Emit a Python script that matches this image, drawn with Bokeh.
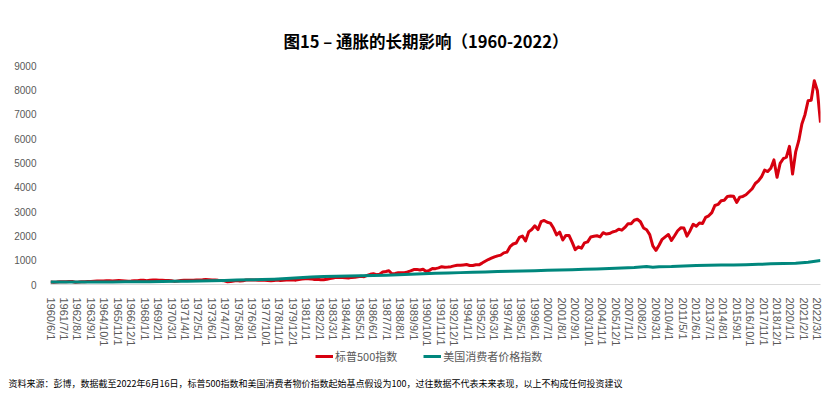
import math
from bokeh.plotting import figure
from bokeh.layouts import column
from bokeh.models import (Range1d, FixedTicker, Legend, LegendItem, Label)
from bokeh.embed import file_html
from bokeh.resources import INLINE

# ---------------- data (index, 1960/6 = 100) ----------------
title_text = "图15 – 通胀的长期影响（1960-2022）"
footer_text = ("资料来源：彭博，数据截至2022年6月16日，标普500指数和美国消费者物价指数起始基点假设为100，"
               "过往数据不代表未来表现，以上不构成任何投资建议")
series_names = ["标普500指数", "美国消费者价格指数"]

# S&P 500 index, quarterly (Mar, Jun, Sep, Dec), from 1960/6 to 2022/6
sp500_first = "1960/6"
sp500_values = [
    100, 94, 102,                      # 1960
    114, 114, 117, 126,                # 1961
    122, 96, 99, 111,                  # 1962
    117, 122, 126, 132,                # 1963
    139, 144, 148, 149,                # 1964
    151, 148, 158, 162,                # 1965
    157, 149, 135, 141,                # 1966
    158, 159, 170, 170,                # 1967
    158, 175, 180, 183,                # 1968
    178, 172, 164, 162,                # 1969
    157, 128, 148, 162,                # 1970
    176, 175, 173, 179,                # 1971
    188, 188, 194, 207,                # 1972
    196, 183, 190, 171,                # 1973
    165, 151, 112, 121,                # 1974
    147, 167, 147, 158,                # 1975
    181, 183, 185, 189,                # 1976
    173, 177, 170, 167,                # 1977
    157, 168, 180, 169,                # 1978
    179, 181, 192, 190,                # 1979
    179, 201, 221, 239,                # 1980
    239, 231, 204, 215,                # 1981
    197, 193, 212, 247,                # 1982
    269, 295, 292, 290,                # 1983
    280, 269, 292, 294,                # 1984
    317, 337, 320, 371,                # 1985
    420, 441, 406, 426,                # 1986
    513, 534, 565, 434,                # 1987
    455, 481, 478, 488,                # 1988
    518, 559, 614, 621,                # 1989
    597, 629, 538, 580,                # 1990
    659, 652, 682, 733,                # 1991
    709, 717, 734, 766,                # 1992
    794, 792, 806, 820,                # 1993
    783, 781, 813, 807,                # 1994
    880, 957, 1027, 1082,              # 1995
    1134, 1178, 1208, 1301,            # 1996
    1330, 1555, 1664, 1705,            # 1997
    1936, 1992, 1787, 2160,            # 1998
    2260, 2412, 2254, 2582,            # 1999
    2633, 2556, 2524, 2320,            # 2000
    2039, 2151, 1829, 2017,            # 2001
    2016, 1739, 1432, 1546,            # 2002
    1490, 1712, 1750, 1954,            # 2003
    1979, 2004, 1958, 2129,            # 2004
    2074, 2093, 2159, 2193,            # 2005
    2275, 2232, 2347, 2492,            # 2006
    2497, 2641, 2683, 2580,            # 2007
    2324, 2249, 2049, 1587,            # 2008
    1402, 1615, 1857, 1959,            # 2009
    2055, 1811, 2005, 2210,            # 2010
    2329, 2320, 1988, 2210,            # 2011
    2475, 2393, 2531, 2506,            # 2012
    2757, 2822, 2955, 3248,            # 2013
    3290, 3444, 3465, 3618,            # 2014
    3633, 3625, 3373, 3591,            # 2015
    3619, 3688, 3810, 3934,            # 2016
    4151, 4258, 4427, 4698,            # 2017
    4640, 4776, 5120, 4405,            # 2018
    4980, 5169, 5230, 5677,            # 2019
    4541, 5447, 5909, 6600,            # 2020
    6980, 7551, 7568, 8374,            # 2021
    7960, 6651,                        # 2022
]

# US CPI index, mid-year points (plus the late-2008 dip)
cpi_dates = ["1960/6", "1961/6", "1962/6", "1963/6", "1964/6", "1965/6", "1966/6", "1967/6",
             "1968/6", "1969/6", "1970/6", "1971/6", "1972/6", "1973/6", "1974/6", "1975/6",
             "1976/6", "1977/6", "1978/6", "1979/6", "1980/6", "1981/6", "1982/6", "1983/6",
             "1984/6", "1985/6", "1986/6", "1987/6", "1988/6", "1989/6", "1990/6", "1991/6",
             "1992/6", "1993/6", "1994/6", "1995/6", "1996/6", "1997/6", "1998/6", "1999/6",
             "2000/6", "2001/6", "2002/6", "2003/6", "2004/6", "2005/6", "2006/6", "2007/6",
             "2008/6", "2008/12", "2009/6", "2010/6", "2011/6", "2012/6", "2013/6", "2014/6",
             "2015/6", "2016/6", "2017/6", "2018/6", "2019/6", "2020/6", "2021/6", "2022/6"]
cpi_values = [100, 101, 102, 103, 105, 106, 109, 113,
              118, 124, 131, 137, 141, 150, 167, 182,
              192, 205, 220, 245, 278, 307, 326, 336,
              351, 364, 370, 384, 400, 419, 442, 460,
              474, 488, 501, 515, 530, 542, 551, 563,
              582, 598, 608, 622, 638, 660, 681, 700,
              739, 710, 729, 737, 760, 776, 787, 800,
              801, 811, 828, 848, 864, 874, 915, 987]

x_tick_labels = ["1960/6/1", "1961/7/1", "1962/8/1", "1963/9/1", "1964/10/1", "1965/11/1",
                 "1966/12/1", "1968/1/1", "1969/2/1", "1970/3/1", "1971/4/1", "1972/5/1",
                 "1973/6/1", "1974/7/1", "1975/8/1", "1976/9/1", "1977/10/1", "1978/11/1",
                 "1979/12/1", "1981/1/1", "1982/2/1", "1983/3/1", "1984/4/1", "1985/5/1",
                 "1986/6/1", "1987/7/1", "1988/8/1", "1989/9/1", "1990/10/1", "1991/11/1",
                 "1992/12/1", "1994/1/1", "1995/2/1", "1996/3/1", "1997/4/1", "1998/5/1",
                 "1999/6/1", "2000/7/1", "2001/8/1", "2002/9/1", "2003/10/1", "2004/11/1",
                 "2005/12/1", "2007/1/1", "2008/2/1", "2009/3/1", "2010/4/1", "2011/5/1",
                 "2012/6/1", "2013/7/1", "2014/8/1", "2015/9/1", "2016/10/1", "2017/11/1",
                 "2018/12/1", "2020/1/1", "2021/2/1", "2022/3/1"]
y_ticks = [0, 1000, 2000, 3000, 4000, 5000, 6000, 7000, 8000, 9000]
end_date = "2022/6"

# ---------------- helpers ----------------
def month_index(s):
    parts = s.split("/")
    return (int(parts[0]) - 1960) * 12 + (int(parts[1]) - 6)

sp_x = [month_index(sp500_first) + 3 * i for i in range(len(sp500_values))]
cpi_x = [month_index(d) for d in cpi_dates]
tick_pos = [month_index(t) for t in x_tick_labels]

RED = "#D7000F"
TEAL = "#00877D"
GRAY = "#595959"

# ---------------- main chart ----------------
p = figure(frame_width=770, frame_height=219, output_backend="svg", toolbar_location=None,
           x_range=Range1d(0, month_index(end_date)), y_range=Range1d(y_ticks[0], y_ticks[-1]),
           min_border_left=50, min_border_right=16, min_border_top=65, min_border_bottom=62)
p.outline_line_color = None
p.background_fill_color = "white"
p.border_fill_color = "white"
p.xgrid.visible = False
p.ygrid.visible = False

p.title.text = title_text
p.title.align = "left"
p.title.offset = 233
p.title.text_font = "Noto Sans CJK SC"
p.title.text_font_size = "16.5px"
p.title.text_font_style = "bold"
p.title.text_color = "#000000"
p.title.standoff = 26

r_sp = p.line(sp_x, sp500_values, line_color=RED, line_width=3, line_join="round")
r_cpi = p.line(cpi_x, cpi_values, line_color=TEAL, line_width=3, line_join="round")

xa = p.xaxis[0]
xa.ticker = FixedTicker(ticks=tick_pos)
xa.major_label_overrides = {pos: lab for pos, lab in zip(tick_pos, x_tick_labels)}
xa.major_label_orientation = "vertical"
xa.major_label_text_font = "Liberation Sans"
xa.major_label_text_font_size = "11px"
xa.major_label_text_color = GRAY
xa.major_label_standoff = 7
xa.major_tick_line_color = None
xa.minor_tick_line_color = None
xa.axis_line_color = "#D9D9D9"
xa.axis_line_width = 1

ya = p.yaxis[0]
ya.ticker = FixedTicker(ticks=y_ticks)
ya.major_label_text_font = "Liberation Sans"
ya.major_label_text_font_size = "10px"
ya.major_label_text_color = GRAY
ya.major_label_standoff = 8
ya.major_tick_line_color = None
ya.minor_tick_line_color = None
ya.axis_line_color = None

# ---------------- legend + source note strip ----------------
# (the series are re-used here only as legend keys; this strip's ranges keep them out of view)
p2 = figure(width=836, height=57, output_backend="svg", toolbar_location=None,
            x_axis_location=None, y_axis_location=None,
            x_range=Range1d(0, 1), y_range=Range1d(0, 1),
            min_border=0, min_border_left=0, min_border_right=0,
            min_border_top=0, min_border_bottom=0)
p2.outline_line_color = None
p2.xgrid.visible = False
p2.ygrid.visible = False
p2.border_fill_color = "white"
x_off = 0
if "frame_align" in p2.properties():
    p2.frame_align = False
else:
    x_off = -50

key_sp = p2.line(sp_x, sp500_values, line_color=RED, line_width=3)
key_cpi = p2.line(cpi_x, cpi_values, line_color=TEAL, line_width=3)

legend = Legend(items=[LegendItem(label=series_names[0], renderers=[key_sp]),
                       LegendItem(label=series_names[1], renderers=[key_cpi])],
                orientation="horizontal", location=(315 + x_off, 42),
                label_text_font="Noto Sans CJK SC", label_text_font_size="11px",
                label_text_color=GRAY, glyph_width=18, glyph_height=12, label_height=12,
                label_standoff=2, spacing=26, padding=2, margin=0,
                border_line_color=None, background_fill_alpha=0)
p2.add_layout(legend, "center")

footer = Label(x=8 + x_off, y=23, x_units="screen", y_units="screen", text=footer_text,
               text_align="left", text_baseline="middle", text_font="Noto Sans CJK SC",
               text_font_size="9px", text_color="#000000")
p2.add_layout(footer)

open("out.html", "w").write(file_html(column(p, p2, spacing=0), INLINE))
